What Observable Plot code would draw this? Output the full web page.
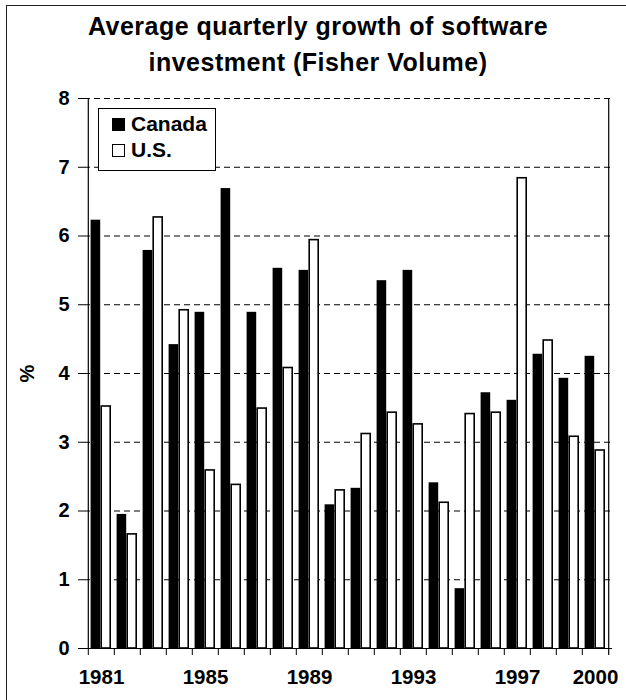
<!DOCTYPE html>
<html>
<head>
<meta charset="utf-8">
<script src="https://cdn.jsdelivr.net/npm/d3@7"></script>
<script src="https://cdn.jsdelivr.net/npm/@observablehq/plot@0.6"></script>
<style>
  body { margin: 0; background: #fff; }
  #wrap { position: relative; width: 626px; height: 700px; overflow: hidden; background: #fff;
          font-family: "Liberation Sans", Arial, sans-serif; color: #000; }
  #frame { position: absolute; left: 6px; top: 5px; width: 700px; height: 800px; border: 1.5px solid #222; }
  #title { position: absolute; left: 10px; top: 8px; width: 616px; text-align: center;
           font-weight: bold; font-size: 25px; line-height: 36px; letter-spacing: 0.5px; }
  #chart { position: absolute; left: 0; top: 80px; }
  #legend { position: absolute; left: 98px; top: 108px; width: 116px; height: 61px; border: 1px solid #000;
            background: #fff; font-weight: bold; font-size: 21px; }
  .item { position: absolute; left: 13px; display: flex; align-items: center; }
  .sw { width: 13px; height: 13px; box-sizing: border-box; margin-right: 6px; }
</style>
</head>
<body>
<div id="wrap">
  <div id="frame"></div>
  <div id="title">Average quarterly growth of software<br>investment (Fisher Volume)</div>
  <div id="chart"></div>
  <div id="legend"></div>
</div>
<script>
const years = ["1981","1982","1983","1984","1985","1986","1987","1988","1989","1990",
               "1991","1992","1993","1994","1995","1996","1997","1998","1999","2000"];
const canada = [6.23,1.95,5.79,4.42,4.89,6.69,4.89,5.53,5.50,2.09,2.33,5.35,5.50,2.41,0.87,3.72,3.61,4.28,3.93,4.25];
const us     = [3.52,1.66,6.27,4.92,2.59,2.38,3.49,4.08,5.94,2.30,3.12,3.43,3.26,2.12,3.41,3.43,6.84,4.48,3.08,2.88];
const seriesNames = ["Canada", "U.S."];
const xTickLabels = ["1981","1985","1989","1993","1997","2000"];
const yTicks = [0,1,2,3,4,5,6,7,8];
const gridValues = [1,2,3,4,5,6,7,8];
const yLabel = "%";

const W = 626, H = 620, mL = 84, mR = 14, mT = 18, mB = 52;
const bw = (W - mL - mR) / years.length;
const below = 7 / ((H - mT - mB) / 8); // tick length below the axis in data units

const canadaRows = years.map((y, i) => ({year: y, value: canada[i]}));
const usRows = years.map((y, i) => ({year: y, value: us[i]}));

const fontStyle = {fontFamily: "Liberation Sans, Arial, sans-serif", fontWeight: "bold"};

const chart = Plot.plot({
  width: W, height: H,
  marginLeft: mL, marginRight: mR, marginTop: mT, marginBottom: mB,
  style: {fontFamily: "Liberation Sans, Arial, sans-serif", fontSize: "20px", fontWeight: "bold", color: "#000", background: "transparent", overflow: "visible"},
  x: {type: "band", domain: years, padding: 0, axis: null},
  y: {domain: [0, 8], axis: null},
  marks: [
    Plot.ruleY(gridValues, {y: d => d, stroke: "#000", strokeWidth: 1, strokeDasharray: "6,4"}),
    Plot.barY(canadaRows, {x: "year", y: "value", fill: "#000", insetLeft: 2.6, insetRight: 13.8}),
    Plot.barY(usRows, {x: "year", y: "value", fill: "#fff", stroke: "#000", strokeWidth: 1.6, insetLeft: 13.2, insetRight: 3.8}),
    Plot.ruleY([0], {y: d => d, stroke: "#000", strokeWidth: 1.2}),
    Plot.ruleX([years[0]], {x: d => d, dx: -bw / 2, y1: 0, y2: 8, stroke: "#000", strokeWidth: 1.2}),
    Plot.ruleX([years[years.length - 1]], {x: d => d, dx: bw / 2, y1: -below, y2: 8, stroke: "#000", strokeWidth: 1.2}),
    Plot.ruleX(years, {x: d => d, dx: -bw / 2, y1: 0, y2: -below, stroke: "#000", strokeWidth: 1}),
    Plot.axisY({ticks: yTicks, tickSize: 6, tickPadding: 9, label: null, fontSize: 20, ...fontStyle}),
    Plot.axisX({ticks: xTickLabels, tickSize: 0, tickPadding: 21, label: null, fontSize: 20.5, ...fontStyle}),
    Plot.text([yLabel], {text: d => d, frameAnchor: "left", dx: -57, rotate: -90, fontSize: 20, ...fontStyle, textAnchor: "middle", lineAnchor: "middle"})
  ]
});
document.getElementById("chart").appendChild(chart);

// Legend
const legend = document.getElementById("legend");
const fills = ["#000", "#fff"];
seriesNames.forEach((name, i) => {
  const item = document.createElement("div");
  item.className = "item";
  item.style.top = (i === 0 ? 3 : 29) + "px";
  const sw = document.createElement("span");
  sw.className = "sw";
  sw.style.background = fills[i];
  sw.style.border = "1.2px solid #000";
  const t = document.createElement("span");
  t.textContent = name;
  item.appendChild(sw);
  item.appendChild(t);
  legend.appendChild(item);
});
</script>
</body>
</html>
